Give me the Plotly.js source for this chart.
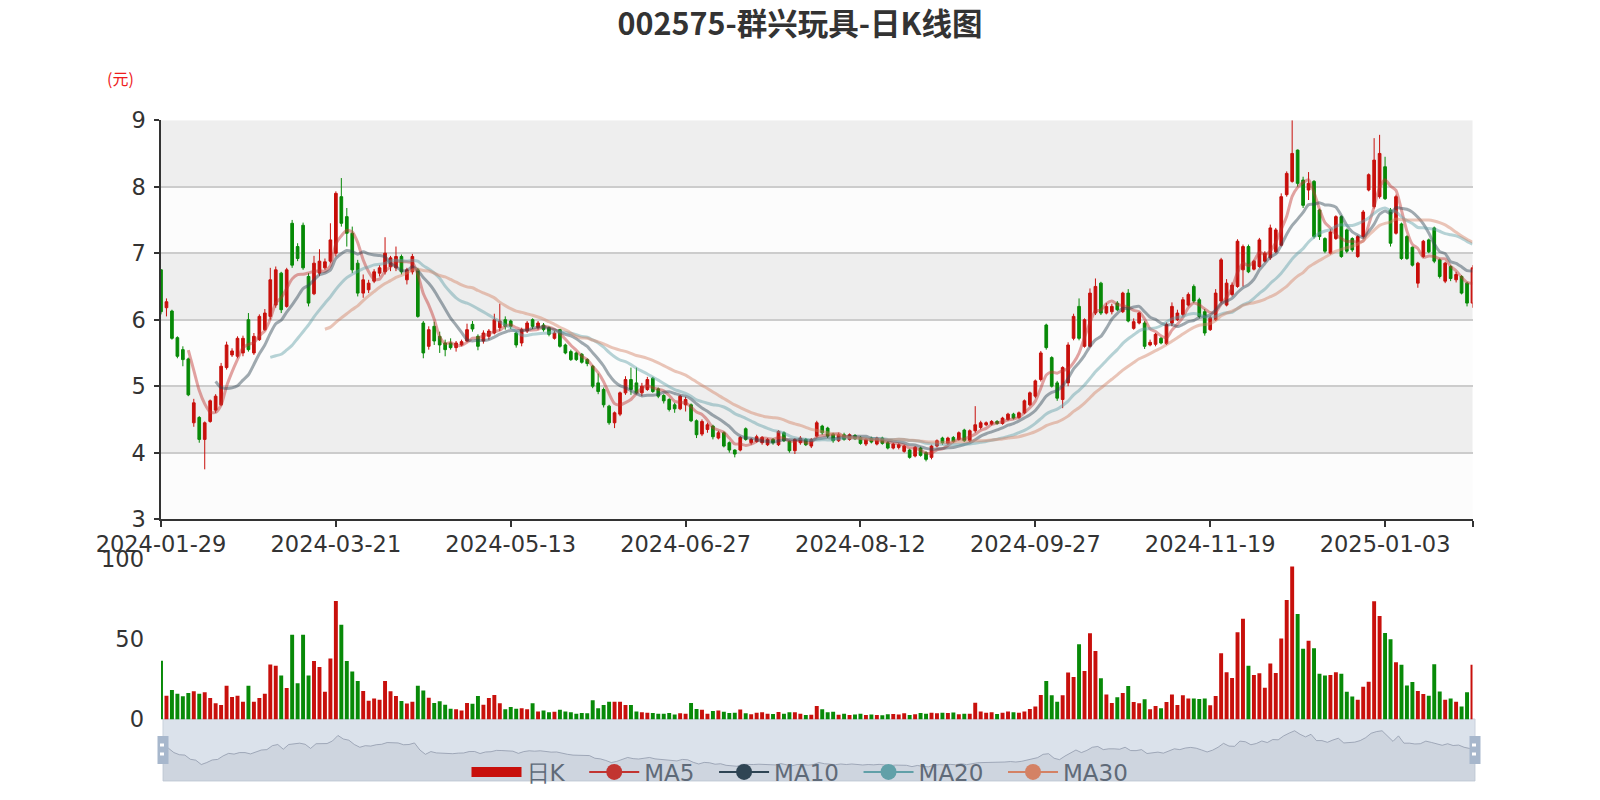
<!DOCTYPE html>
<html><head><meta charset="utf-8">
<script src="https://cdn.plot.ly/plotly-3.0.1.min.js"></script>
<style>html,body{margin:0;padding:0;background:#fff}#chart{width:1600px;height:800px}</style>
</head><body><div id="chart"></div>
<script>
const dates = [
'2024-01-29','2024-01-30','2024-01-31','2024-02-01','2024-02-02','2024-02-05','2024-02-06','2024-02-07','2024-02-08',
'2024-02-19','2024-02-20','2024-02-21','2024-02-22','2024-02-23','2024-02-26','2024-02-27','2024-02-28','2024-02-29','2024-03-01',
'2024-03-04','2024-03-05','2024-03-06','2024-03-07','2024-03-08','2024-03-11','2024-03-12','2024-03-13','2024-03-14','2024-03-15',
'2024-03-18','2024-03-19','2024-03-20','2024-03-21','2024-03-22','2024-03-25','2024-03-26','2024-03-27','2024-03-28','2024-03-29',
'2024-04-01','2024-04-02','2024-04-03','2024-04-08','2024-04-09','2024-04-10','2024-04-11','2024-04-12','2024-04-15','2024-04-16',
'2024-04-17','2024-04-18','2024-04-19','2024-04-22','2024-04-23','2024-04-24','2024-04-25','2024-04-26','2024-04-29','2024-04-30',
'2024-05-06','2024-05-07','2024-05-08','2024-05-09','2024-05-10','2024-05-13','2024-05-14','2024-05-15','2024-05-16','2024-05-17',
'2024-05-20','2024-05-21','2024-05-22','2024-05-23','2024-05-24','2024-05-27','2024-05-28','2024-05-29','2024-05-30','2024-05-31',
'2024-06-03','2024-06-04','2024-06-05','2024-06-06','2024-06-07','2024-06-11','2024-06-12','2024-06-13','2024-06-14','2024-06-17',
'2024-06-18','2024-06-19','2024-06-20','2024-06-21','2024-06-24','2024-06-25','2024-06-26','2024-06-27','2024-06-28','2024-07-01',
'2024-07-02','2024-07-03','2024-07-04','2024-07-05','2024-07-08','2024-07-09','2024-07-10','2024-07-11','2024-07-12','2024-07-15',
'2024-07-16','2024-07-17','2024-07-18','2024-07-19','2024-07-22','2024-07-23','2024-07-24','2024-07-25','2024-07-26','2024-07-29',
'2024-07-30','2024-07-31','2024-08-01','2024-08-02','2024-08-05','2024-08-06','2024-08-07','2024-08-08','2024-08-09','2024-08-12',
'2024-08-13','2024-08-14','2024-08-15','2024-08-16','2024-08-19','2024-08-20','2024-08-21','2024-08-22','2024-08-23','2024-08-26',
'2024-08-27','2024-08-28','2024-08-29','2024-08-30','2024-09-02','2024-09-03','2024-09-04','2024-09-05','2024-09-06','2024-09-09',
'2024-09-10','2024-09-11','2024-09-12','2024-09-13','2024-09-18','2024-09-19','2024-09-20','2024-09-23','2024-09-24','2024-09-25',
'2024-09-26','2024-09-27','2024-09-30','2024-10-08','2024-10-09','2024-10-10','2024-10-11','2024-10-14','2024-10-15','2024-10-16',
'2024-10-17','2024-10-18','2024-10-21','2024-10-22','2024-10-23','2024-10-24','2024-10-25','2024-10-28','2024-10-29','2024-10-30',
'2024-10-31','2024-11-01','2024-11-04','2024-11-05','2024-11-06','2024-11-07','2024-11-08','2024-11-11','2024-11-12','2024-11-13',
'2024-11-14','2024-11-15','2024-11-18','2024-11-19','2024-11-20','2024-11-21','2024-11-22','2024-11-25','2024-11-26','2024-11-27',
'2024-11-28','2024-11-29','2024-12-02','2024-12-03','2024-12-04','2024-12-05','2024-12-06','2024-12-09','2024-12-10','2024-12-11',
'2024-12-12','2024-12-13','2024-12-16','2024-12-17','2024-12-18','2024-12-19','2024-12-20','2024-12-23','2024-12-24','2024-12-25',
'2024-12-26','2024-12-27','2024-12-30','2024-12-31','2025-01-02','2025-01-03','2025-01-06','2025-01-07','2025-01-08','2025-01-09',
'2025-01-10','2025-01-13','2025-01-14','2025-01-15','2025-01-16','2025-01-17','2025-01-20','2025-01-21','2025-01-22','2025-01-23',
'2025-01-24','2025-01-27'];

const opens = [
6.75,6.18,6.13,5.73,5.55,5.41,4.45,4.53,4.20,4.47, 4.64,4.72,5.28,5.47,5.45,5.50,6.00,5.50,5.70,5.85,
6.05,6.22,6.70,6.20,7.45,7.10,7.42,6.65,6.39,6.70, 6.78,6.88,7.00,7.85,7.55,7.30,6.85,6.40,6.45,6.58,
6.70,6.72,6.80,6.78,6.95,6.60,6.72,6.75,5.95,5.60, 5.90,5.75,5.65,5.65,5.58,5.62,5.68,5.93,5.75,5.68,
5.75,5.80,5.88,6.00,5.98,5.80,5.65,5.83,6.00,5.88, 5.92,5.88,5.72,5.85,5.62,5.52,5.50,5.48,5.40,5.30,
5.05,4.95,4.70,4.45,4.58,4.90,5.10,5.05,4.90,4.95, 5.12,4.96,4.86,4.80,4.72,4.66,4.72,4.72,4.48,4.28,
4.35,4.40,4.22,4.30,4.15,4.04,4.04,4.36,4.15,4.17, 4.15,4.12,4.20,4.12,4.30,4.17,4.03,4.15,4.20,4.10,
4.25,4.40,4.37,4.28,4.18,4.27,4.20,4.26,4.23,4.13, 4.22,4.13,4.22,4.15,4.07,4.08,4.02,4.04,3.95,4.07,
4.00,3.93,4.10,4.22,4.14,4.23,4.20,4.34,4.18,4.33, 4.38,4.42,4.43,4.47,4.44,4.50,4.58,4.53,4.60,4.72,
4.85,5.10,5.92,5.43,5.05,4.80,5.05,5.72,6.20,5.60, 5.60,6.10,6.55,6.10,6.12,6.25,6.12,6.40,5.87,5.95,
5.95,5.62,5.63,5.72,5.64,5.95,6.00,6.08,6.22,6.50, 6.30,6.12,5.85,6.00,6.28,6.22,6.38,6.50,6.75,7.10,
6.76,6.80,6.88,6.93,7.02,7.12,7.88,8.08,8.55,8.10, 7.95,8.08,7.65,7.22,7.00,7.22,7.55,7.35,7.22,6.95,
7.25,7.95,7.70,7.85,8.30,7.65,7.30,7.44,7.25,7.09, 6.55,6.95,7.20,7.38,6.90,6.58,6.80,6.60,6.65,6.55,
6.25];

const highs = [
6.76,6.32,6.15,5.75,5.60,5.43,4.81,4.55,4.47,4.80, 4.88,5.35,5.67,5.57,5.75,5.76,6.10,5.80,6.08,6.16,
6.78,6.80,6.72,6.78,7.50,7.15,7.46,6.70,6.96,7.06, 6.92,7.45,7.93,8.13,7.68,7.40,6.90,6.68,6.60,6.76,
6.82,7.24,6.96,7.10,6.98,6.78,6.99,6.78,5.98,5.90, 5.97,5.82,5.70,5.72,5.68,5.70,5.94,5.98,5.78,5.84,
5.86,6.09,6.24,6.05,6.00,5.82,5.88,5.98,6.02,5.98, 5.95,5.90,5.83,5.86,5.64,5.55,5.52,5.50,5.42,5.32,
5.19,4.98,4.72,4.62,4.92,5.15,5.28,5.28,5.05,5.14, 5.14,4.98,4.88,4.82,4.75,4.87,4.84,4.74,4.50,4.50,
4.45,4.42,4.33,4.32,4.17,4.05,4.25,4.38,4.22,4.27, 4.25,4.22,4.22,4.34,4.32,4.18,4.22,4.25,4.22,4.22,
4.48,4.42,4.39,4.30,4.30,4.30,4.29,4.28,4.25,4.22, 4.24,4.24,4.24,4.17,4.15,4.14,4.12,4.06,4.10,4.09,
4.02,4.12,4.20,4.24,4.24,4.25,4.32,4.36,4.35,4.70, 4.48,4.47,4.49,4.49,4.54,4.60,4.60,4.62,4.80,4.92,
5.10,5.53,5.94,5.45,5.08,5.30,5.66,6.09,6.32,6.02, 6.47,6.62,6.57,6.25,6.24,6.28,6.42,6.46,6.02,6.12,
5.98,5.70,5.80,5.74,5.96,6.26,6.15,6.34,6.41,6.53, 6.33,6.16,6.06,6.46,6.93,6.61,6.56,7.21,7.13,7.13,
6.90,7.23,7.03,7.43,7.38,7.90,8.23,9.00,8.56,8.15, 8.22,8.10,7.67,7.24,7.36,7.57,7.57,7.37,7.24,7.27,
7.65,8.20,8.73,8.78,8.45,7.68,7.88,7.46,7.27,7.10, 6.87,7.20,7.22,7.40,6.92,6.87,6.82,6.72,6.67,6.57,
6.82];

const lows = [
6.08,6.05,5.70,5.42,5.30,4.85,4.39,4.15,3.75,4.45, 4.60,4.70,5.25,5.44,5.42,5.45,5.52,5.47,5.68,5.83,
6.00,6.18,6.10,6.18,6.78,6.88,6.75,6.20,6.37,6.66, 6.75,6.85,6.95,7.40,7.10,6.70,6.35,6.33,6.40,6.55,
6.65,6.68,6.73,6.73,6.68,6.53,6.68,6.03,5.42,5.55, 5.62,5.50,5.45,5.55,5.52,5.60,5.66,5.82,5.54,5.64,
5.70,5.78,5.83,5.85,5.86,5.58,5.60,5.80,5.86,5.85, 5.82,5.75,5.70,5.58,5.48,5.38,5.38,5.34,5.30,4.97,
4.88,4.68,4.42,4.37,4.55,4.87,4.87,4.88,4.85,4.93, 4.90,4.82,4.74,4.62,4.60,4.64,4.62,4.46,4.22,4.25,
4.30,4.20,4.20,4.08,4.00,3.93,4.02,4.18,4.12,4.15, 4.12,4.10,4.12,4.10,4.16,4.00,3.98,4.12,4.10,4.07,
4.23,4.27,4.22,4.15,4.16,4.18,4.18,4.19,4.12,4.10, 4.14,4.11,4.12,4.05,4.05,4.05,4.00,3.91,3.93,3.94,
3.87,3.90,4.08,4.12,4.12,4.15,4.18,4.16,4.16,4.30, 4.35,4.40,4.41,4.42,4.42,4.48,4.50,4.51,4.58,4.70,
4.82,5.07,5.55,4.98,4.78,4.67,5.00,5.69,5.69,5.58, 5.58,6.07,6.07,6.08,6.08,6.13,6.10,5.96,5.85,5.93,
5.56,5.60,5.60,5.63,5.62,5.90,5.98,6.05,6.20,6.25, 6.02,5.76,5.83,5.98,6.25,6.20,6.35,6.48,6.50,6.70,
6.74,6.78,6.86,6.90,7.00,7.10,7.85,8.06,8.00,7.68, 7.80,7.22,7.20,7.00,6.98,7.20,6.93,7.00,7.02,6.93,
7.22,7.93,7.67,7.82,7.80,7.10,7.28,6.90,6.90,6.80, 6.48,6.93,7.00,6.85,6.62,6.55,6.58,6.56,6.38,6.20,
6.18];

const closes = [
6.12,6.27,5.72,5.45,5.40,4.87,4.75,4.20,4.45,4.78, 4.85,5.30,5.62,5.53,5.72,5.72,5.55,5.75,6.05,6.10,
6.60,6.75,6.15,6.75,6.82,6.92,6.78,6.25,6.85,6.88, 6.87,7.20,7.90,7.45,7.30,6.75,6.40,6.60,6.55,6.72,
6.78,7.00,6.93,6.95,6.72,6.75,6.95,6.05,5.50,5.85, 5.68,5.62,5.55,5.58,5.65,5.67,5.85,5.86,5.60,5.80,
5.83,6.00,5.98,5.90,5.90,5.62,5.85,5.95,5.90,5.95, 5.85,5.78,5.80,5.60,5.50,5.40,5.40,5.36,5.34,5.00,
4.92,4.72,4.45,4.60,4.90,5.10,4.95,4.90,5.00,5.10, 4.92,4.85,4.78,4.65,4.66,4.85,4.80,4.48,4.27,4.47,
4.42,4.24,4.30,4.10,4.04,3.98,4.23,4.20,4.20,4.24, 4.23,4.20,4.15,4.32,4.18,4.03,4.20,4.22,4.12,4.20,
4.45,4.30,4.25,4.18,4.27,4.20,4.27,4.21,4.14,4.20, 4.16,4.22,4.14,4.07,4.13,4.12,4.10,3.93,4.08,3.96,
3.90,4.10,4.18,4.15,4.22,4.17,4.30,4.18,4.33,4.42, 4.45,4.45,4.47,4.44,4.52,4.58,4.52,4.60,4.78,4.90,
5.08,5.50,5.58,5.00,4.82,5.28,5.62,6.05,5.72,6.00, 6.40,6.50,6.10,6.20,6.20,6.15,6.40,5.98,5.97,6.10,
5.60,5.66,5.78,5.65,5.93,6.20,6.10,6.30,6.38,6.28, 6.05,5.80,6.03,6.40,6.90,6.55,6.52,7.18,7.10,6.72,
6.88,7.20,7.00,7.38,7.35,7.85,8.20,8.50,8.05,7.72, 8.05,7.25,7.25,7.03,7.32,7.55,6.95,7.03,7.05,7.25,
7.62,8.18,8.40,8.50,7.82,7.15,7.85,6.92,6.92,6.82, 6.85,7.18,7.02,6.88,6.65,6.85,6.62,6.68,6.40,6.25,
6.78];

const volumes = [
36.6,14.8,18.3,16.0,14.5,16.4,17.5,16.0,17.0,13.4, 10.0,9.0,21.0,14.0,14.8,11.0,21.0,11.0,13.3,16.0,
34.2,33.5,27.3,19.6,52.8,22.5,52.8,27.3,36.4,32.7, 17.2,38.0,73.8,59.0,36.4,29.8,24.0,17.7,11.7,13.0,
12.3,24.0,17.5,14.6,11.5,9.9,11.0,21.0,18.0,13.5, 10.3,11.3,9.2,6.6,6.4,5.5,10.3,9.7,14.6,9.1,
13.3,15.2,10.0,6.4,7.7,6.6,7.0,6.4,10.0,5.0, 5.5,4.5,4.8,6.0,5.0,4.5,3.5,4.0,3.8,12.0,
6.9,9.0,11.0,11.0,11.0,8.9,8.9,5.0,4.5,4.2, 4.0,3.5,3.6,4.0,3.0,3.8,3.5,10.3,6.5,6.0,
3.5,5.3,5.5,4.8,4.0,4.2,6.2,3.8,3.2,4.1, 4.5,3.5,3.3,4.6,3.5,4.4,4.5,3.5,2.8,2.9,
8.4,6.3,4.5,4.7,2.9,3.6,2.8,3.0,3.5,2.8, 3.0,2.7,2.6,3.2,3.4,3.0,3.9,2.8,3.2,4.0,
3.5,4.1,3.8,4.1,4.0,4.3,3.2,3.6,3.6,10.4, 5.0,4.2,4.5,3.4,4.2,5.0,4.5,4.2,5.0,6.5,
8.0,15.2,24.0,15.0,11.0,15.0,29.2,26.4,46.9,30.2, 53.7,42.7,25.6,15.6,10.2,13.8,16.5,20.8,10.9,10.0,
12.5,6.3,8.4,6.9,10.9,15.6,9.0,15.0,13.1,13.0, 12.7,13.1,8.8,14.6,41.2,29.4,25.8,54.3,62.8,33.5,
27.7,28.7,19.8,34.8,29.0,50.4,74.4,95.4,65.7,44.1, 49.0,44.3,28.5,27.3,27.7,29.4,28.5,17.2,14.3,12.3,
20.4,23.5,73.6,64.5,53.9,49.9,35.6,34.0,21.2,23.3, 17.7,15.8,14.8,34.4,17.4,12.2,13.0,11.0,8.0,17.0,
34.0];

const tickDates = ['2024-01-29','2024-03-21','2024-05-13','2024-06-27','2024-08-12','2024-09-27','2024-11-19','2025-01-03'];
const priceTicks = [3,4,5,6,7,8,9];
const volumeTicks = [0,50,100];
const maNames = ['MA5','MA10','MA20','MA30'];
const maWindows = [5,10,20,30];

const UP = '#c8100c', DOWN = '#088a08';
const maColors = ['#c23531','#2f4554','#61a0a8','#d48265'];
const FONT = '"Noto Sans CJK SC", "Noto Sans", sans-serif';
const TICKFONT = '"DejaVu Sans", sans-serif';
const W = 1600, H = 800;
const px = v => v / W, py = v => 1 - v / H;
const PAD = '\u00a0\u00a0';

function movingAverage(n) {
  return closes.map((_, i) => {
    if (i < n) return null;
    let s = 0;
    for (let j = 0; j < n; j++) s += closes[i - j];
    return +(s / n).toFixed(3);
  });
}

const traces = [];
traces.push({
  type: 'candlestick', x: dates, open: opens, high: highs, low: lows, close: closes,
  xaxis: 'x', yaxis: 'y', name: '日K', showlegend: false, whiskerwidth: 0,
  increasing: {line: {color: UP, width: 1}, fillcolor: UP},
  decreasing: {line: {color: DOWN, width: 1}, fillcolor: DOWN},
  hoverinfo: 'skip'
});
maWindows.forEach((n, k) => {
  traces.push({
    type: 'scatter', mode: 'lines', x: dates, y: movingAverage(n), xaxis: 'x', yaxis: 'y',
    line: {color: maColors[k], width: 3, shape: 'spline', smoothing: 0.6}, opacity: 0.45,
    showlegend: false, hoverinfo: 'skip', name: maNames[k]
  });
});
traces.push({
  type: 'bar', x: dates, y: volumes, xaxis: 'x2', yaxis: 'y2', width: 0.72,
  marker: {color: closes.map((c, i) => c >= opens[i] ? UP : DOWN), line: {width: 0}},
  showlegend: false, hoverinfo: 'skip'
});
traces.push({
  type: 'scatter', mode: 'lines', x: dates, y: closes, xaxis: 'x3', yaxis: 'y3',
  fill: 'tozeroy', fillcolor: 'rgba(120,132,150,0.13)',
  line: {color: 'rgba(140,150,168,0.75)', width: 1}, showlegend: false, hoverinfo: 'skip'
});
// legend entries
traces.push({
  type: 'scatter', mode: 'lines', x: [null], y: [null], xaxis: 'x', yaxis: 'y', name: '日K' + PAD,
  line: {color: UP, width: 10}, showlegend: true
});
maNames.forEach((nm, k) => {
  traces.push({
    type: 'scatter', mode: 'lines+markers', x: [null], y: [null], xaxis: 'x', yaxis: 'y',
    name: nm + (k < maNames.length - 1 ? PAD : ''),
    line: {color: maColors[k], width: 2}, marker: {color: maColors[k], size: 18}, showlegend: true
  });
});

const shapes = [];
priceTicks.slice(0, -1).forEach(t => {
  shapes.push({type: 'rect', xref: 'x domain', x0: 0, x1: 1, yref: 'y', y0: t, y1: t + 1,
    fillcolor: (t % 2 === 0) ? '#eeeeee' : '#fcfcfc', line: {width: 0}, layer: 'below'});
});
// slider box
const sx0 = px(163), sx1 = px(1475), sy0 = py(781), sy1 = py(719);
shapes.push({type: 'rect', xref: 'paper', yref: 'paper', x0: sx0, x1: sx1, y0: sy0, y1: sy1,
  fillcolor: '#dbe2eb', line: {color: '#c9d1dc', width: 1}, layer: 'below'});
[163, 1475].forEach(cx => {
  shapes.push({type: 'rect', xref: 'paper', yref: 'paper', x0: px(cx - 5.5), x1: px(cx + 5.5), y0: py(764), y1: py(736),
    fillcolor: '#a7b7cc', line: {width: 0}, layer: 'above'});
  [745, 754].forEach(cy => shapes.push({type: 'rect', xref: 'paper', yref: 'paper',
    x0: px(cx - 3), x1: px(cx + 1), y0: py(cy + 1.5), y1: py(cy - 1.5), fillcolor: '#ffffff', line: {width: 0}, layer: 'above'}));
});

const xTicks = tickDates.concat([dates[dates.length - 1]]);
const xText = tickDates.concat(['']);

const layout = {
  width: W, height: H, margin: {l: 0, r: 0, t: 0, b: 0},
  paper_bgcolor: '#ffffff', plot_bgcolor: 'rgba(0,0,0,0)',
  font: {family: FONT, color: '#333333'},
  title: {text: '002575-群兴玩具-日K线图', x: 0.5, xanchor: 'center', xref: 'paper', y: 1 - 24 / H, yref: 'container', yanchor: 'middle',
    font: {family: FONT, size: 30.5, color: '#333333', weight: 'bold'}},
  showlegend: true,
  legend: {orientation: 'h', x: 0.5, xanchor: 'center', y: py(772), yanchor: 'middle',
    font: {family: TICKFONT, size: 23, color: '#5f6a78'}, bgcolor: 'rgba(0,0,0,0)', itemwidth: 50,
    traceorder: 'normal', itemsizing: 'trace'},
  xaxis: {type: 'category', domain: [px(161), px(1472.5)], range: [0, dates.length - 1], anchor: 'y',
    tickmode: 'array', tickvals: xTicks, ticktext: xText, ticks: 'outside', ticklen: 6, tickcolor: '#333', tickwidth: 1.5,
    showline: true, linecolor: '#333', linewidth: 1.5, showgrid: false, zeroline: false,
    tickfont: {family: TICKFONT, size: 22.5, color: '#333'}, ticklabelstandoff: -2, rangeslider: {visible: false}, fixedrange: true},
  yaxis: {domain: [py(519.2), py(120.2)], range: [3, 9], anchor: 'x', tickmode: 'array', tickvals: priceTicks,
    ticks: 'outside', ticklen: 5, tickcolor: '#333', tickwidth: 1.5, showline: true, linecolor: '#333', linewidth: 1.5,
    showgrid: true, gridcolor: '#cccccc', gridwidth: 1.5, zeroline: false, tickfont: {family: TICKFONT, size: 22.5, color: '#333'},
    ticklabelstandoff: 4, fixedrange: true},
  xaxis2: {type: 'category', domain: [px(161), px(1472.5)], range: [0, dates.length - 1], anchor: 'y2',
    showticklabels: false, ticks: '', showline: false, showgrid: false, zeroline: false, fixedrange: true},
  yaxis2: {domain: [py(719.4), py(559)], range: [0, 100], anchor: 'x2', tickmode: 'array', tickvals: volumeTicks,
    ticks: '', showline: false, showgrid: false, zeroline: false, tickfont: {family: TICKFONT, size: 22.5, color: '#333'},
    ticklabelstandoff: 16, fixedrange: true},
  xaxis3: {type: 'category', domain: [sx0, sx1], range: [0, dates.length - 1], anchor: 'y3', visible: false, fixedrange: true},
  yaxis3: {domain: [sy0, sy1], range: [2.1, 10], anchor: 'x3', visible: false, fixedrange: true},
  shapes: shapes,
  annotations: [{text: '(元)', xref: 'paper', yref: 'paper', x: px(120), y: py(78), xanchor: 'center', yanchor: 'middle',
    showarrow: false, font: {family: FONT, size: 16, color: '#ee1c1c'}}],
  bargap: 0.25
};

Plotly.newPlot('chart', traces, layout, {displayModeBar: false, responsive: false});
</script>
</body></html>
